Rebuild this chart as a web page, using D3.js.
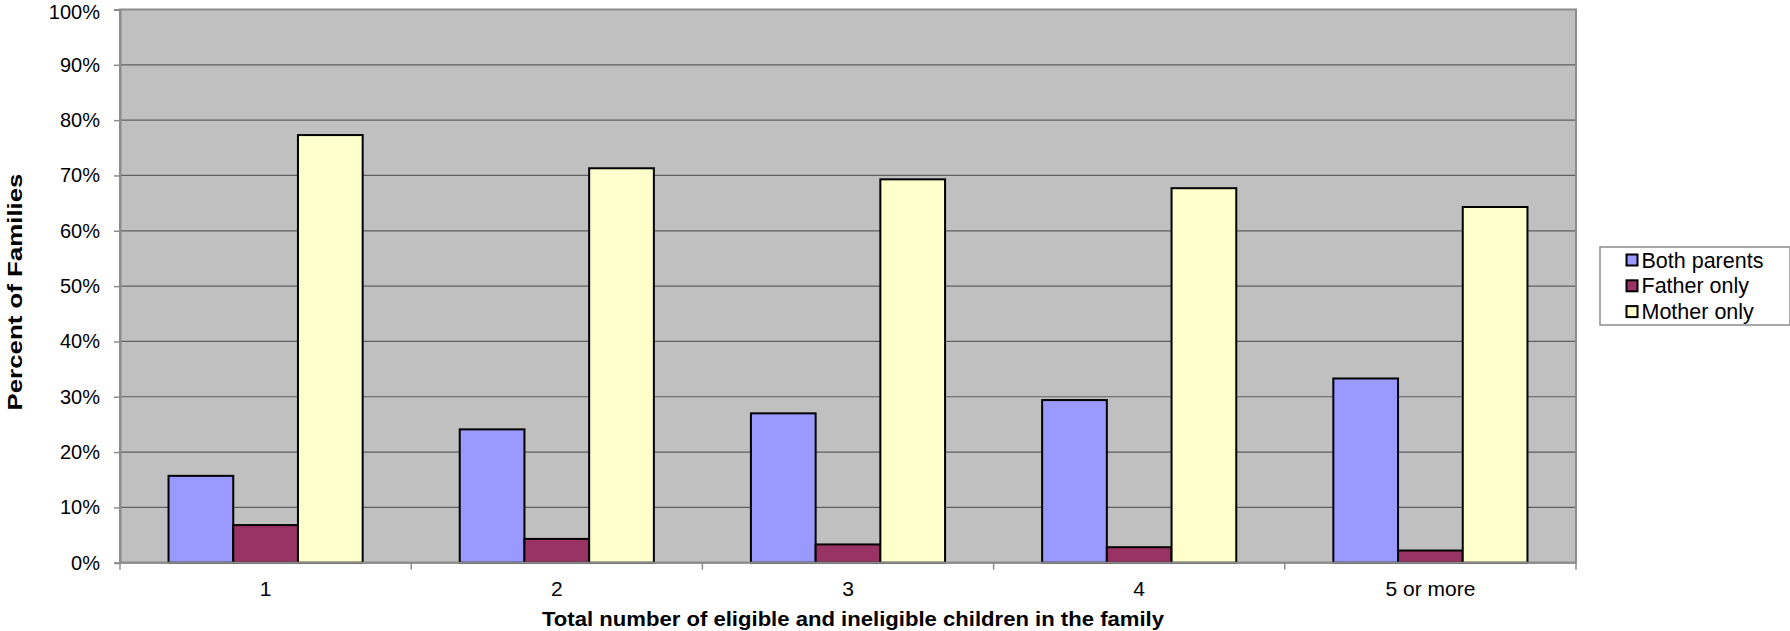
<!DOCTYPE html>
<html>
<head>
<meta charset="utf-8">
<script src="https://cdn.jsdelivr.net/npm/d3@7"></script>
<style>
  html, body { margin: 0; padding: 0; background: #ffffff; }
  svg { display: block; font-family: "Liberation Sans", Arial, sans-serif; }
</style>
</head>
<body>
<svg id="chart" width="1790" height="631"></svg>
<script>
// Family composition by number of children
const categories = ["1", "2", "3", "4", "5 or more"];
const seriesNames = ["Both parents", "Father only", "Mother only"];
const bothParents = [15.7, 24.1, 27.0, 29.4, 33.3];
const fatherOnly = [6.8, 4.3, 3.3, 2.8, 2.2];
const motherOnly = [77.3, 71.3, 69.3, 67.7, 64.3];
const yTicks = [0, 10, 20, 30, 40, 50, 60, 70, 80, 90, 100];
const seriesColors = ["#9999ff", "#993366", "#ffffcc"];

const seriesValues = [bothParents, fatherOnly, motherOnly];
const rows = categories.map((c, i) => ({
  category: c,
  values: seriesNames.map((s, j) => ({ series: s, value: seriesValues[j][i] }))
}));

const svg = d3.select("#chart");
const plot = { left: 120, top: 9.5, right: 1576, bottom: 562.7 };

const x = d3.scaleBand().domain(categories).range([plot.left, plot.right]).paddingInner(0).paddingOuter(0);
// Three bars per group, gap equal to 1.5 bar widths
const x1 = d3.scaleBand().domain(seriesNames).range([0, x.bandwidth()]).paddingInner(0).paddingOuter(0.75);
const y = d3.scaleLinear().domain([0, 100]).range([plot.bottom, plot.top]);

// Plot area background
svg.append("rect")
  .attr("x", plot.left).attr("y", plot.top)
  .attr("width", plot.right - plot.left).attr("height", plot.bottom - plot.top)
  .attr("fill", "#c0c0c0");

// Horizontal gridlines
svg.append("g").selectAll("line").data(yTicks.filter(t => t > 0)).join("line")
  .attr("x1", plot.left).attr("x2", plot.right)
  .attr("y1", d => y(d)).attr("y2", d => y(d))
  .attr("stroke", "#5f5f5f").attr("stroke-width", 1.2);

// Plot border
svg.append("rect")
  .attr("x", plot.left).attr("y", plot.top)
  .attr("width", plot.right - plot.left).attr("height", plot.bottom - plot.top)
  .attr("fill", "none").attr("stroke", "#8c8c8c").attr("stroke-width", 2);

// Bars
const groups = svg.append("g").selectAll("g").data(rows).join("g")
  .attr("transform", d => `translate(${x(d.category)},0)`);
groups.selectAll("rect").data(d => d.values).join("rect")
  .attr("x", d => x1(d.series))
  .attr("width", x1.bandwidth())
  .attr("y", d => y(d.value))
  .attr("height", d => y(0) - y(d.value))
  .attr("fill", (d, i) => seriesColors[i])
  .attr("stroke", "#000").attr("stroke-width", 2);

// Y axis
const yAxis = svg.append("g")
  .attr("transform", `translate(${plot.left},0)`)
  .call(d3.axisLeft(y).tickValues(yTicks).tickFormat(d => d + "%").tickSize(6).tickPadding(14));
yAxis.select(".domain").attr("stroke", "#8c8c8c").attr("stroke-width", 2);
yAxis.selectAll(".tick line").attr("stroke", "#8c8c8c").attr("stroke-width", 1.5);
yAxis.selectAll(".tick text").attr("font-size", 20).attr("fill", "#000")
  .attr("font-family", "'Liberation Sans', Arial, sans-serif")
  .attr("dy", d => d === 100 ? "0.45em" : "0.32em");

// X axis with ticks on category boundaries
const xAxis = svg.append("g").attr("transform", `translate(0,${plot.bottom})`);
xAxis.append("line").attr("x1", plot.left).attr("x2", plot.right)
  .attr("stroke", "#8c8c8c").attr("stroke-width", 2);
const boundaries = categories.map(c => x(c)).concat([x(categories[categories.length - 1]) + x.bandwidth()]);
xAxis.selectAll("line.tk").data(boundaries).join("line").attr("class", "tk")
  .attr("x1", d => d).attr("x2", d => d).attr("y1", 0).attr("y2", 7)
  .attr("stroke", "#8c8c8c").attr("stroke-width", 1.5);
xAxis.selectAll("text").data(categories).join("text")
  .attr("x", d => x(d) + x.bandwidth() / 2).attr("y", 33)
  .attr("text-anchor", "middle").attr("font-size", 21).attr("fill", "#000")
  .text(d => d);

// Axis titles
svg.append("text")
  .attr("x", 853).attr("y", 626)
  .attr("text-anchor", "middle").attr("font-size", 21).attr("font-weight", "bold")
  .attr("textLength", 622).attr("lengthAdjust", "spacingAndGlyphs")
  .text("Total number of eligible and ineligible children in the family");
svg.append("text")
  .attr("transform", "translate(22,292) rotate(-90)")
  .attr("text-anchor", "middle").attr("font-size", 21).attr("font-weight", "bold")
  .attr("textLength", 237).attr("lengthAdjust", "spacingAndGlyphs")
  .text("Percent of Families");

// Legend
const legend = svg.append("g").attr("transform", "translate(1600,247)");
legend.append("rect").attr("x", 0).attr("y", 0).attr("width", 190).attr("height", 78)
  .attr("fill", "#fff").attr("stroke", "#8c8c8c").attr("stroke-width", 1.5);
const items = legend.selectAll("g").data(seriesNames).join("g")
  .attr("transform", (d, i) => `translate(0,${13 + i * 25.8})`);
items.append("rect").attr("x", 26.5).attr("y", -5.5).attr("width", 11).attr("height", 11)
  .attr("fill", (d, i) => seriesColors[i]).attr("stroke", "#000").attr("stroke-width", 2);
items.append("text").attr("x", 41.5).attr("y", 7.5)
  .attr("font-size", 21.5).attr("fill", "#000").text(d => d);
</script>
</body>
</html>
